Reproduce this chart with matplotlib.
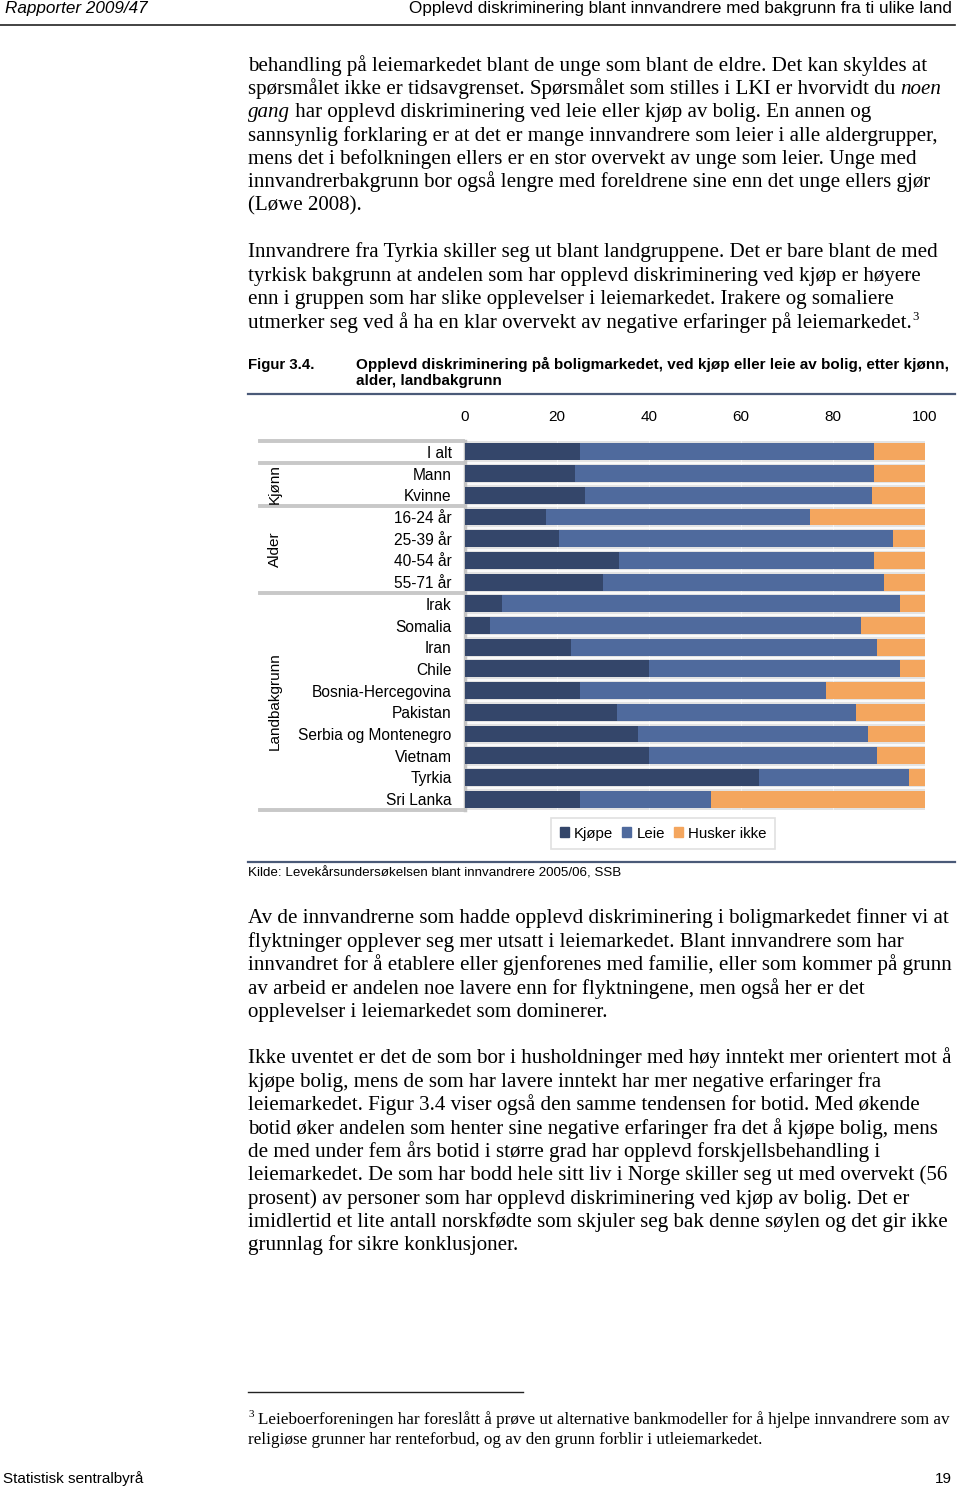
import matplotlib
matplotlib.use("Agg")
import matplotlib.pyplot as plt
import matplotlib.transforms as mtransforms
from matplotlib.patches import Patch

# chart data (percent)
categories = ["I alt", "Mann", "Kvinne", "16-24 år", "25-39 år", "40-54 år", "55-71 år",
              "Irak", "Somalia", "Iran", "Chile", "Bosnia-Hercegovina", "Pakistan",
              "Serbia og Montenegro", "Vietnam", "Tyrkia", "Sri Lanka"]
kjope = [25, 24, 26, 17.5, 20.5, 33.5, 30, 8, 5.5, 23, 40, 25, 33, 37.5, 40, 64, 25]
leie = [64, 65, 62.5, 57.5, 72.5, 55.5, 61, 86.5, 80.5, 66.5, 54.5, 53.5, 52, 50, 49.5, 32.5, 28.5]
husker = [11, 11, 11.5, 25, 7, 11, 9, 5.5, 14, 10.5, 5.5, 21.5, 15, 12.5, 10.5, 3.5, 46.5]
series_names = ["Kjøpe", "Leie", "Husker ikke"]
groups = ["Kjønn", "Alder", "Landbakgrunn"]
group_rows = [(1, 2), (3, 6), (7, 16)]
xticks = [0, 20, 40, 60, 80, 100]

para1 = [
    "behandling på leiemarkedet blant de unge som blant de eldre. Det kan skyldes at",
    "spørsmålet ikke er tidsavgrenset. Spørsmålet som stilles i LKI er hvorvidt du _noen_",
    "_gang_ har opplevd diskriminering ved leie eller kjøp av bolig. En annen og",
    "sannsynlig forklaring er at det er mange innvandrere som leier i alle aldergrupper,",
    "mens det i befolkningen ellers er en stor overvekt av unge som leier. Unge med",
    "innvandrerbakgrunn bor også lengre med foreldrene sine enn det unge ellers gjør",
    "(Løwe 2008).",
]
para2 = [
    "Innvandrere fra Tyrkia skiller seg ut blant landgruppene. Det er bare blant de med",
    "tyrkisk bakgrunn at andelen som har opplevd diskriminering ved kjøp er høyere",
    "enn i gruppen som har slike opplevelser i leiemarkedet. Irakere og somaliere",
    "utmerker seg ved å ha en klar overvekt av negative erfaringer på leiemarkedet.^3",
]
para3 = [
    "Av de innvandrerne som hadde opplevd diskriminering i boligmarkedet finner vi at",
    "flyktninger opplever seg mer utsatt i leiemarkedet. Blant innvandrere som har",
    "innvandret for å etablere eller gjenforenes med familie, eller som kommer på grunn",
    "av arbeid er andelen noe lavere enn for flyktningene, men også her er det",
    "opplevelser i leiemarkedet som dominerer.",
]
para4 = [
    "Ikke uventet er det de som bor i husholdninger med høy inntekt mer orientert mot å",
    "kjøpe bolig, mens de som har lavere inntekt har mer negative erfaringer fra",
    "leiemarkedet. Figur 3.4 viser også den samme tendensen for botid. Med økende",
    "botid øker andelen som henter sine negative erfaringer fra det å kjøpe bolig, mens",
    "de med under fem års botid i større grad har opplevd forskjellsbehandling i",
    "leiemarkedet. De som har bodd hele sitt liv i Norge skiller seg ut med overvekt (56",
    "prosent) av personer som har opplevd diskriminering ved kjøp av bolig. Det er",
    "imidlertid et lite antall norskfødte som skjuler seg bak denne søylen og det gir ikke",
    "grunnlag for sikre konklusjoner.",
]
footnote = [
    "Leieboerforeningen har foreslått å prøve ut alternative bankmodeller for å hjelpe innvandrere som av",
    "religiøse grunner har renteforbud, og av den grunn forblir i utleiemarkedet.",
]

W, H = 960, 1489
fig = plt.figure(figsize=(W / 100, H / 100), dpi=100)
renderer = fig.canvas.get_renderer()


def fx(x):
    return x / W


def fy(y):
    return 1 - y / H


SERIF = "Liberation Serif"
SANS = "Liberation Sans"


def text_width(s, **kw):
    t = fig.text(0, 0, s, **kw)
    w = t.get_window_extent(renderer).width
    t.remove()
    return w


def advance(s, **kw):
    # width including leading/trailing spaces
    return text_width("x" + s + "x", **kw) - text_width("xx", **kw)


# font sizes fitted so the first lines span the same width as in the page
body_size = 14 * 677 / text_width(para1[0], fontsize=14, family=SERIF)
foot_size = 11 * 691 / text_width(footnote[0], fontsize=11, family=SERIF)


def put_line(x, y, line, size):
    # _word_ is italic, ^3 is a superscript
    pieces = line.split("_")
    for k, part in enumerate(pieces):
        if not part:
            continue
        style = "italic" if k % 2 == 1 else "normal"
        sup = None
        if "^" in part:
            part, sup = part.split("^")
        fig.text(fx(x), fy(y), part, fontsize=size, family=SERIF, style=style, va="baseline")
        x += advance(part, fontsize=size, family=SERIF, style=style)
        if sup:
            fig.text(fx(x + 1), fy(y - 8), sup, fontsize=size * 0.6, family=SERIF, va="baseline")


def put_para(lines, y0, step=23.35):
    for i, line in enumerate(lines):
        put_line(248, y0 + i * step, line, body_size)


# page header / footer
fig.text(fx(5), fy(8), "Rapporter 2009/47", fontsize=12.3, family=SANS, style="italic", va="center")
fig.text(fx(952), fy(8), "Opplevd diskriminering blant innvandrere med bakgrunn fra ti ulike land",
         fontsize=12.3, family=SANS, ha="right", va="center")
fig.add_artist(plt.Line2D([fx(0), fx(955)], [fy(25), fy(25)], color="#222222", lw=1.2))
fig.text(fx(3), fy(1479), "Statistisk sentralbyrå", fontsize=11, family=SANS, va="center")
fig.text(fx(952), fy(1479), "19", fontsize=11, family=SANS, ha="right", va="center")

put_para(para1, 70.5)
put_para(para2, 257.5)
put_para(para3, 923.5)
put_para(para4, 1063.5)

# footnote
fig.add_artist(plt.Line2D([fx(248), fx(523)], [fy(1392), fy(1392)], color="#222222", lw=1))
fig.text(fx(248), fy(1417), "3", fontsize=foot_size * 0.65, family=SERIF, va="baseline")
for i, line in enumerate(footnote):
    xs = 258 if i == 0 else 248
    fig.text(fx(xs), fy(1424 + i * 19.5), line, fontsize=foot_size, family=SERIF, va="baseline")

# figure caption
fig.text(fx(248), fy(364.5), "Figur 3.4.", fontsize=10.8, family=SANS, weight="bold", va="center")
fig.text(fx(356), fy(364.5), "Opplevd diskriminering på boligmarkedet, ved kjøp eller leie av bolig, etter kjønn,",
         fontsize=11, family=SANS, weight="bold", va="center")
fig.text(fx(356), fy(381.5), "alder, landbakgrunn", fontsize=11, family=SANS, weight="bold", va="center")
fig.add_artist(plt.Line2D([fx(248), fx(955)], [fy(394), fy(394)], color="#4a5a78", lw=1.6))
fig.add_artist(plt.Line2D([fx(248), fx(955)], [fy(862), fy(862)], color="#4a5a78", lw=1.6))
fig.text(fx(248), fy(873), "Kilde: Levekårsundersøkelsen blant innvandrere 2005/06, SSB",
         fontsize=9.65, family=SANS, va="center")

# the bar chart
colors = ["#34466a", "#4f6a9d", "#f4a65e"]
ax = fig.add_axes([fx(465), fy(810), (925 - 465) / W, (810 - 441) / H])
ax.set_facecolor("#e3e3e3")
rows = list(range(len(categories)))
left2 = [a + b for a, b in zip(kjope, leie)]
ax.barh(rows, kjope, height=0.78, color=colors[0], zorder=3)
ax.barh(rows, leie, left=kjope, height=0.78, color=colors[1], zorder=3)
ax.barh(rows, husker, left=left2, height=0.78, color=colors[2], zorder=3)
for r in rows[:-1]:
    ax.axhline(r + 0.5, color="white", lw=1.2, zorder=2)
ax.grid(axis="x", color="#f2f2f2", lw=0.8, zorder=1)
ax.set_xlim(0, 100)
ax.set_ylim(16.5, -0.5)
ax.xaxis.tick_top()
ax.set_xticks(xticks, [str(v) for v in xticks])
ax.set_yticks(rows, categories)
ax.tick_params(axis="x", length=0, pad=12.5, labelsize=11)
ax.tick_params(axis="y", length=0, pad=9.5, labelsize=11.2)
for lab in ax.get_xticklabels() + ax.get_yticklabels():
    lab.set_family(SANS)
for s in ["top", "right", "bottom"]:
    ax.spines[s].set_visible(False)
ax.spines["left"].set_color("#c4c4c4")
ax.spines["left"].set_linewidth(2.5)

# group label table on the left
trans = mtransforms.blended_transform_factory(fig.transFigure, ax.transData)
for yb in [-0.5, 0.5, 2.5, 6.5, 16.5]:
    ax.plot([fx(260), fx(463)], [yb, yb], color="#c8c8c8", lw=2.8, transform=trans, clip_on=False)
for name, (a, b) in zip(groups, group_rows):
    ax.text(fx(275), (a + b) / 2, name, rotation=90, ha="center", va="center",
            fontsize=11, family=SANS, transform=trans)

handles = [Patch(color=c) for c in colors]
leg = fig.legend(handles, series_names, loc="center", bbox_to_anchor=(fx(663), fy(833.5)), ncol=3,
                 frameon=True, fancybox=False, handlelength=0.6, handleheight=0.6,
                 handletextpad=0.35, columnspacing=0.6, borderpad=0.55,
                 prop={"family": SANS, "size": 10.8})
leg.get_frame().set_edgecolor("#d9d9d9")
leg.get_frame().set_linewidth(1.2)
leg.get_frame().set_boxstyle("square", pad=0)

fig.savefig("out.png", dpi=100)
